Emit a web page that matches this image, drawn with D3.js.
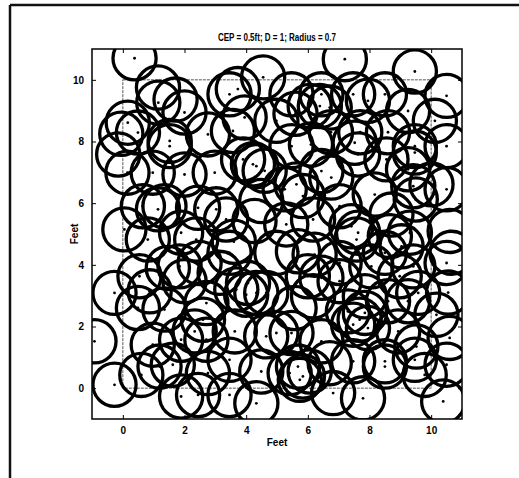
<!DOCTYPE html>
<html lang="en">
<head>
    <title>CEP circles</title>
    <script src="https://d3js.org/d3.v7.min.js"></script>
    <style>
        body { margin: 0; background: #fff; }
        text { font-family: "Liberation Sans", Arial, sans-serif; font-weight: bold; }
    </style>
</head>
<body>

<script>
    // circle centres (feet)
    const cx = [0.38, 7.20, 9.47, 4.55, 1.14, 3.73, 3.46, 5.47, 6.44, 6.39, 6.71, 6.06, 7.47, 7.95, 8.50,
        9.25, 10.50, 10.12, 10.50, 2.00, 1.15, 1.71, 0.16, 0.49, 3.95, 4.98, 2.76, 3.57, 1.52, 1.52,
        5.47, 9.47, 9.47, 7.63, 7.52, 0.97, 2.00, 2.98, 4.33, 3.90, 4.22, 4.60, -0.15, 0.15, -0.05,
        5.63, 6.44, 9.25, 9.42, 10.01, 10.50, 6.17, 5.30, 4.49, 3.03, 3.35, 0.65, 1.14, 0.05, 7.41,
        7.63, 9.50, 1.35, 4.27, 7.58, 8.66, 9.31, 9.04, 10.66, 10.50, 0.81, 3.46, 8.50, 6.44, 1.84,
        7.03, 9.42, 8.06, -0.27, 2.00, 4.00, 9.58, 9.25, 7.85, 10.17, 0.49, 3.68, 4.33, 4.06, 6.00,
        6.17, 7.03, 7.85, 7.95, 7.68, 8.98, 0.87, 1.35, 2.49, 2.71, 3.14, 2.38, 3.60, 4.98, 6.22,
        -0.92, 4.98, 5.47, 0.97, 1.62, 3.46, 7.47, 8.50, 8.50, 5.68, 9.47, 9.52, 10.50, -0.27, 2.44,
        3.46, 6.82, 7.79, 4.33, 10.39, 1.19, 0.60, 2.33, 2.71, 2.60, 1.89, 4.65, 5.41, 5.84, 6.06,
        5.74, 9.79, 7.47, 6.10, 6.76, 7.70, 8.55, 5.60, 6.75, 8.60, 5.84, 7.03, 8.17, 8.71, 2.44,
        1.89, 5.25, 8.60, 7.30, 5.57, 4.65, 3.63, 6.44, 8.93, 10.60, 2.76, 4.49, 6.71, 1.89, 0.54,
        1.46, 5.68, 10.60, 10.55];
    const cy = [10.70, 10.67, 10.27, 10.08, 9.75, 9.70, 9.53, 9.53, 9.53, 9.15, 9.10, 9.15, 9.53, 9.32, 9.53,
        8.99, 9.48, 8.67, 7.85, 8.94, 9.26, 9.36, 8.61, 8.29, 8.78, 8.67, 8.23, 8.34, 8.02, 7.85,
        7.85, 7.85, 7.64, 7.58, 7.96, 6.99, 6.93, 6.99, 7.20, 7.42, 7.26, 7.05, 7.58, 6.99, 8.25,
        6.61, 7.04, 7.10, 6.55, 6.61, 6.45, 5.47, 5.31, 6.07, 5.80, 5.47, 5.90, 5.80, 5.15, 5.25,
        5.04, 6.12, 5.90, 5.42, 4.82, 4.93, 5.04, 4.60, 4.39, 4.06, 4.82, 4.39, 4.39, 3.58, 3.95,
        3.47, 3.95, 3.95, 3.09, 3.47, 3.03, 3.09, 2.82, 2.98, 2.38, 2.60, 3.20, 3.09, 3.41, 3.63,
        2.98, 4.06, 2.44, 1.95, 2.22, 3.63, 3.14, 2.55, 4.06, 2.76, 3.74, 4.82, 4.75, 4.39, 4.33,
        1.52, 1.79, 1.79, 1.41, 0.76, 0.92, 0.87, 0.87, 0.70, 0.70, 0.92, 1.35, 0.76, 0.11, -0.22,
        -0.22, -0.16, -0.33, -0.49, -0.43, 0.70, 0.43, 1.84, 1.57, 2.22, -0.27, 1.68, 0.49, 0.38, 0.54,
        0.27, 0.43, 2.06, 7.90, 6.83, 8.30, 7.42, 8.90, 8.30, 8.30, 6.23, 5.90, 6.28, 5.63, 5.85,
        5.04, 6.45, 2.82, 2.49, 2.60, 3.09, 1.84, 1.52, 1.84, 1.63, 0.49, 0.54, 0.81, 1.57, 3.63,
        3.90, 4.44, 5.10, 3.10];

    const radius = 0.7;
    const xTicks = [0, 2, 4, 6, 8, 10];
    const yTicks = [0, 2, 4, 6, 8, 10];
    const title = "CEP = 0.5ft; D = 1; Radius = 0.7";

    const W = 519, H = 478;
    const mLeft = 92, mRight = 462, mTop = 49, mBottom = 419;

    const x = d3.scaleLinear().domain([-1, 11]).range([mLeft, mRight]);
    const y = d3.scaleLinear().domain([-1, 11]).range([mBottom, mTop]);

    const svg = d3.select("body").append("svg").attr("width", W).attr("height", H);

    // scanned page frame
    svg.append("line").attr("x1", 10).attr("y1", 5).attr("x2", W).attr("y2", 5)
        .attr("stroke", "#111").attr("stroke-width", 2.5);
    svg.append("line").attr("x1", 10).attr("y1", 5).attr("x2", 10).attr("y2", H)
        .attr("stroke", "#111").attr("stroke-width", 2.5);

    svg.append("clipPath").attr("id", "plotclip")
        .append("rect").attr("x", mLeft).attr("y", mTop)
        .attr("width", mRight - mLeft).attr("height", mBottom - mTop);

    const plot = svg.append("g").attr("clip-path", "url(#plotclip)");

    // target square 0..10
    plot.append("rect")
        .attr("x", x(0)).attr("y", y(10))
        .attr("width", x(10) - x(0)).attr("height", y(0) - y(10))
        .attr("fill", "none").attr("stroke", "#444").attr("stroke-width", 0.9)
        .attr("stroke-dasharray", "3,1");

    const pts = cx.map((d, i) => ({x: d, y: cy[i]}));
    const rpx = x(radius) - x(0);

    plot.selectAll("circle.ring").data(pts).enter()
        .append("circle").attr("class", "ring")
        .attr("cx", d => x(d.x)).attr("cy", d => y(d.y))
        .attr("r", rpx)
        .attr("fill", "none").attr("stroke", "#000").attr("stroke-width", 3.3);

    plot.selectAll("circle.dot").data(pts).enter()
        .append("circle").attr("class", "dot")
        .attr("cx", d => x(d.x)).attr("cy", d => y(d.y))
        .attr("r", 1.4).attr("fill", "#000");

    // axes, ticks inside on all sides
    const styleAxis = g => {
        g.select(".domain").remove();
        g.selectAll("line").attr("stroke", "#000");
        g.selectAll("text").attr("font-size", 10).attr("fill", "#000");
    };
    svg.append("g").attr("transform", `translate(0,${mBottom})`)
        .call(d3.axisBottom(x).tickValues(xTicks).tickSizeInner(-4).tickPadding(8))
        .call(styleAxis);
    svg.append("g").attr("transform", `translate(0,${mTop})`)
        .call(d3.axisTop(x).tickValues(xTicks).tickSizeInner(-4).tickFormat(""))
        .call(styleAxis);
    svg.append("g").attr("transform", `translate(${mLeft},0)`)
        .call(d3.axisLeft(y).tickValues(yTicks).tickSizeInner(-4).tickPadding(8))
        .call(styleAxis);
    svg.append("g").attr("transform", `translate(${mRight},0)`)
        .call(d3.axisRight(y).tickValues(yTicks).tickSizeInner(-4).tickFormat(""))
        .call(styleAxis);

    svg.append("rect").attr("x", mLeft).attr("y", mTop)
        .attr("width", mRight - mLeft).attr("height", mBottom - mTop)
        .attr("fill", "none").attr("stroke", "#000").attr("stroke-width", 1.5);

    // the scanned title is set in a condensed face, so squeeze it
    svg.append("text").attr("x", (mLeft + mRight) / 2).attr("y", 41)
        .attr("text-anchor", "middle").attr("font-size", 10)
        .attr("textLength", 118).attr("lengthAdjust", "spacingAndGlyphs")
        .text(title);
    svg.append("text").attr("x", (mLeft + mRight) / 2).attr("y", 446)
        .attr("text-anchor", "middle").attr("font-size", 10).text("Feet");
    svg.append("text").attr("transform", `translate(78,${(mTop + mBottom) / 2}) rotate(-90)`)
        .attr("text-anchor", "middle").attr("font-size", 10).text("Feet");
</script>

</body>
</html>
